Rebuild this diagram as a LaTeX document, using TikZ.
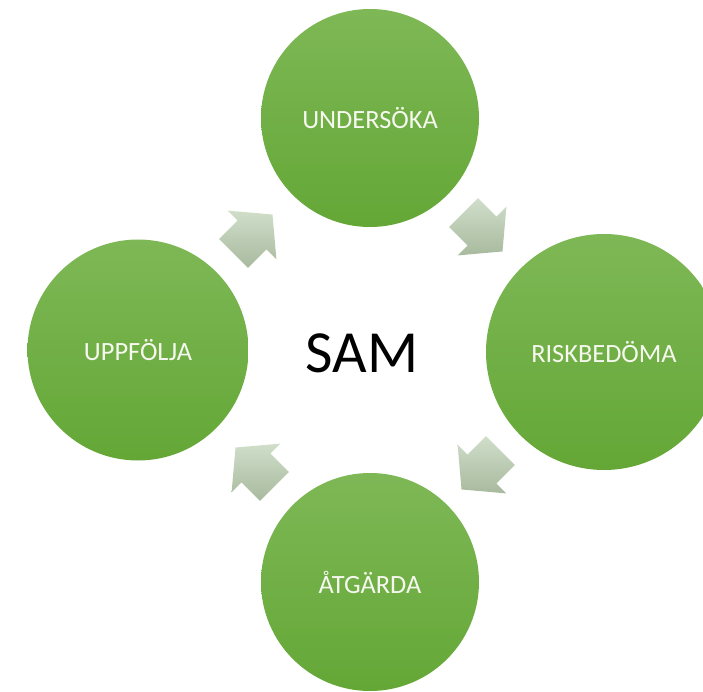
\documentclass[tikz,border=0pt]{standalone}
\usepackage{fontspec}
\setmainfont{Carlito}
\usetikzlibrary{shapes.arrows, positioning}

\definecolor{stagetop}{RGB}{126,184,86}
\definecolor{stagebot}{RGB}{100,167,54}
\definecolor{flowtop}{RGB}{208,222,202}
\definecolor{flowbot}{RGB}{168,186,158}
\definecolor{stagetext}{RGB}{246,248,240}

\begin{document}
\begin{tikzpicture}[
	every node/.style={font=\rmfamily},
	stage/.style={
		circle, draw=none, inner sep=0pt,
		top color=stagetop, bottom color=stagebot,
		text=stagetext, font=\fontsize{15}{18}\selectfont
	},
	flow/.style={
		single arrow, draw=none, inner sep=0pt, inner ysep=0.4cm,
		top color=flowtop, bottom color=flowbot,
		minimum height=1.1cm, single arrow head extend=0.28cm,
		single arrow tip angle=100, rotate=#1
	}
	]
	
	\clip (0,0) rectangle (14.06,13.82);
	
	% Nodes
	\node[font=\fontsize{34}{40}\selectfont] (sam) at (7.24,6.76) {SAM};
	\node[stage, minimum size=4.36cm] (undersoka) at (7.40,11.46) {UNDERSÖKA};
	\node[stage, minimum size=4.72cm] (riskbedoma) at (12.08,6.78) {RISKBEDÖMA};
	\node[stage, minimum size=4.36cm] (atgarda) at (7.40,2.18) {ÅTGÄRDA};
	\node[stage, minimum size=4.42cm] (uppfolja) at (2.76,6.82) {UPPFÖLJA};
	
	% Arrows between the stages
	\node[flow=-45] (a1) at (9.54,9.30) {};
	\node[flow=-135] (a2) at (9.74,4.54) {};
	\node[flow=135] (a3) at (5.22,4.36) {};
	\node[flow=45] (a4) at (4.94,9.02) {};
\end{tikzpicture}
\end{document}
